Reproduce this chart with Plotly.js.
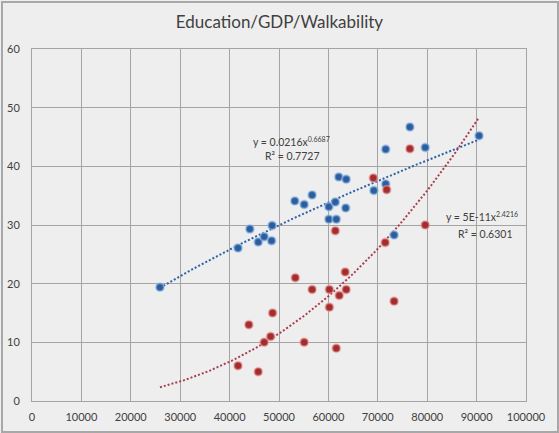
<!DOCTYPE html>
<html>
<head>
<meta charset="utf-8">
<script src="https://cdn.plot.ly/plotly-3.0.1.min.js"></script>
<style>
  html, body { margin: 0; padding: 0; background: #eeeeee; }
  #chart { width: 559px; height: 433px; position: relative; }
  #frame { position: absolute; left: 1px; top: 1px; width: 554px; height: 428px; border: 2px solid #a8a8a8; pointer-events: none; }
</style>
</head>
<body>
<div id="chart"></div>
<div id="frame"></div>
<script>
// GDP per capita (x) for each series
const gdpEducation = [25900, 41700, 44100, 45800, 47000, 48500, 48600, 53200, 55100, 56700, 60100, 60100,
                      61400, 61600, 62100, 63500, 63600, 69200, 71600, 71600, 73300, 76500, 79600, 90500];
const education    = [19.4, 26.1, 29.3, 27.1, 28.0, 27.3, 29.9, 34.1, 33.5, 35.1, 33.1, 31.0,
                      33.9, 31.0, 38.2, 32.9, 37.8, 35.9, 37.0, 42.9, 28.3, 46.7, 43.2, 45.2];
const gdpWalk      = [41700, 43900, 45800, 47000, 48300, 48700, 53300, 55100, 56700, 60200, 60200,
                      61400, 61600, 62200, 63400, 63600, 69100, 71800, 71500, 73300, 76500, 79600];
const walkability  = [6, 13, 5, 10, 11, 15, 21, 10, 19, 19, 16,
                      29, 9, 18, 22, 19, 38, 36, 27, 17, 43, 30];

// Power trendlines as labelled on the chart (y = a * x^b)
const eduFit  = { a: 0.0216, b: 0.6687, eq: 'y = 0.0216x<sup><span style="font-size:7px">0.6687</span></sup>', r2: 'R² = 0.7727' };
const walkFit = { a: 4.8e-11, b: 2.4216, eq: 'y = 5E-11x<sup><span style="font-size:7px">2.4216</span></sup>', r2: 'R² = 0.6301' };
// trendline span (from the chart)
const trendMinX = 25900, trendMaxX = 90500;

function trend(fit) {
  const xs = [], ys = [];
  const n = 120;
  for (let i = 0; i <= n; i++) {
    const x = trendMinX + (trendMaxX - trendMinX) * i / n;
    xs.push(x);
    ys.push(fit.a * Math.pow(x, fit.b));
  }
  return { xs, ys };
}
const tEdu = trend(eduFit), tWalk = trend(walkFit);

const font = 'Lato, "Open Sans", "Liberation Sans", sans-serif';
const annFont = { family: font, size: 10.5, color: '#404040' };

const traces = [
  { x: tEdu.xs, y: tEdu.ys, mode: 'lines', hoverinfo: 'skip',
    line: { color: '#2e62a6', width: 2, dash: '2px,2px' } },
  { x: tWalk.xs, y: tWalk.ys, mode: 'lines', hoverinfo: 'skip',
    line: { color: '#a8404c', width: 2, dash: '2px,2px' } },
  { x: gdpEducation, y: education, mode: 'markers', name: 'Education',
    marker: { color: '#2c5e9e', size: 8, line: { color: 'rgba(150,190,235,0.55)', width: 2 } } },
  { x: gdpWalk, y: walkability, mode: 'markers', name: 'Walkability',
    marker: { color: '#a52c2c', size: 8, line: { color: 'rgba(235,160,160,0.5)', width: 2 } } }
];

const layout = {
  width: 559, height: 433,
  paper_bgcolor: '#eeeeee', plot_bgcolor: '#eeeeee',
  margin: { l: 32, r: 33, t: 49, b: 32 },
  showlegend: false,
  title: { text: 'Education/GDP/Walkability', x: 0.5, xanchor: 'center', y: 0.95, yanchor: 'middle',
           font: { family: font, size: 17, color: '#404040' } },
  xaxis: {
    range: [0, 100000], dtick: 10000, tick0: 0, tickformat: 'd',
    showgrid: true, gridcolor: '#a4a4a4', gridwidth: 1,
    showline: true, linecolor: '#a4a4a4', linewidth: 1, mirror: true,
    zeroline: false, ticks: '', ticklabelstandoff: 6,
    tickfont: { family: font, size: 11, color: '#404040' }
  },
  yaxis: {
    range: [0, 60], dtick: 10, tick0: 0,
    showgrid: true, gridcolor: '#a4a4a4', gridwidth: 1,
    showline: true, linecolor: '#a4a4a4', linewidth: 1, mirror: true,
    zeroline: false, ticks: '', ticklabelstandoff: 9,
    tickfont: { family: font, size: 11, color: '#404040' }
  },
  annotations: [
    { x: 52500, y: 44.25, xref: 'x', yref: 'y', text: eduFit.eq, showarrow: false, font: annFont },
    { x: 52600, y: 41.8, xref: 'x', yref: 'y', text: eduFit.r2, showarrow: false, font: annFont },
    { x: 91100, y: 31.4, xref: 'x', yref: 'y', text: walkFit.eq, showarrow: false, font: annFont },
    { x: 91800, y: 28.5, xref: 'x', yref: 'y', text: walkFit.r2, showarrow: false, font: annFont }
  ]
};

Plotly.newPlot('chart', traces, layout, { displayModeBar: false, staticPlot: true });
</script>
</body>
</html>
